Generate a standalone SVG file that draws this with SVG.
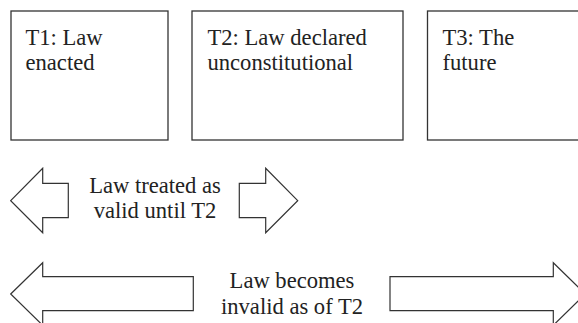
<svg xmlns="http://www.w3.org/2000/svg" width="578" height="323" viewBox="0 0 578 323">
<style>
.box{fill:#fff;stroke:#333;stroke-width:1.3}
.arr{fill:#fff;stroke:#333;stroke-width:1.2;stroke-linejoin:miter}
text{font-family:'Liberation Serif','Times New Roman',Times,'DejaVu Serif',serif;font-size:22.6px;fill:#222}
.c{text-anchor:middle}
</style>
<rect width="578" height="323" fill="#fff"/>
<g id="t1">
<rect class="box" x="11" y="11" width="157" height="129"/>
<text x="25.5" y="45">T1: Law</text>
<text x="25.5" y="70">enacted</text>
</g>
<g id="t2">
<rect class="box" x="192" y="11" width="211" height="129"/>
<text x="207.5" y="45">T2: Law declared</text>
<text x="207.5" y="70">unconstitutional</text>
</g>
<g id="t3">
<rect class="box" x="427.5" y="11" width="160" height="129"/>
<text x="442.5" y="45">T3: The</text>
<text x="442.5" y="70">future</text>
</g>
<g id="connectors">
<g id="valid-until-t2">
<polygon class="arr" points="10.7,200.7 42.7,168.3 42.7,183.3 68.3,183.3 68.3,217.7 42.7,217.7 42.7,232.7"/>
<polygon class="arr" points="297.7,200.7 265.7,168.3 265.7,183.3 239.3,183.3 239.3,217.7 265.7,217.7 265.7,232.7"/>
<text class="c" x="155" y="192.5">Law treated as</text>
<text class="c" x="155" y="218">valid until T2</text>
</g>
<g id="invalid-as-of-t2">
<polygon class="arr" points="10.7,294 42.7,262.7 42.7,276.7 193.3,276.7 193.3,310.7 42.7,310.7 42.7,325.3"/>
<polygon class="arr" points="585.3,294 553.3,262.7 553.3,276.7 390,276.7 390,310.7 553.3,310.7 553.3,325.3"/>
<text class="c" x="292" y="288">Law becomes</text>
<text class="c" x="292" y="314">invalid as of T2</text>
</g>
</g>
</svg>
